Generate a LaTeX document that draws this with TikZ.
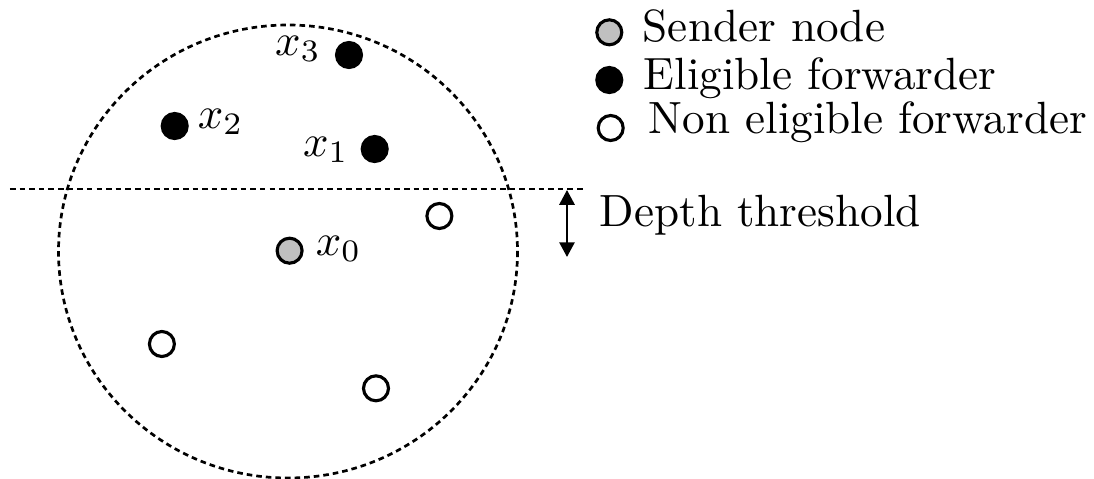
\documentclass[tikz,border=0pt]{standalone}
\usetikzlibrary{arrows.meta}
\definecolor{sendergray}{RGB}{192,192,192}
\begin{document}
\begin{tikzpicture}[x=0.2237pt,y=-0.2237pt,
  dotnode/.style={circle,draw=black,line width=0.7pt,minimum size=25*0.2237pt,inner sep=0pt},
  sendernode/.style={dotnode,fill=sendergray},
  eligiblenode/.style={dotnode,fill=black},
  othernode/.style={dotnode,fill=white},
  rangeline/.style={dash pattern=on 1.25pt off 0.9pt,line width=0.6pt},
  lbl/.style={inner sep=0pt,font=\fontsize{10.1}{12}\selectfont}]
\useasboundingbox (0,0) rectangle (1094,479);
% range and threshold
\draw[rangeline] (288,251.5) ellipse [x radius=229.5, y radius=226.5];
\coordinate (thrL) at (10,189);
\coordinate (thrR) at (584,189);
\draw[rangeline] (thrL) -- (thrR);
% nodes
\node[eligiblenode] (x3) at (349,55) {};
\node[eligiblenode] (x2) at (174.7,126) {};
\node[eligiblenode] (x1) at (374.7,149) {};
\node[sendernode] (x0) at (289.6,250.7) {};
\node[othernode] (n1) at (439.4,216) {};
\node[othernode] (n2) at (161.9,344) {};
\node[othernode] (n3) at (376,388.3) {};
% labels
\node[lbl,anchor=base east] (lx3) at (321.7,55) {$x_3$};
\node[lbl,anchor=base west] (lx2) at (197,128) {$x_2$};
\node[lbl,anchor=base east] (lx1) at (349.5,156) {$x_1$};
\node[lbl,anchor=base west] (lx0) at (315,255) {$x_0$};
% legend
\node[sendernode] (lg1) at (609.3,32.3) {};
\node[eligiblenode] (lg2) at (609.3,80) {};
\node[othernode] (lg3) at (610.7,128) {};
\node[lbl,anchor=base west] (lt1) at (642,41.7) {Sender node};
\node[lbl,anchor=base west] (lt2) at (643,89) {Eligible forwarder};
\node[lbl,anchor=base west] (lt3) at (648,133.5) {Non eligible forwarder};
% depth threshold
\coordinate (dtop) at (567,190);
\coordinate (dbot) at (567,257);
\draw[line width=0.5pt,{Triangle[length=3.3pt,width=3.4pt]}-{Triangle[length=3.3pt,width=3.4pt]}] (dtop) -- (dbot);
\node[lbl,anchor=base west] (dt) at (599,226.7) {Depth threshold};
\end{tikzpicture}
\end{document}
